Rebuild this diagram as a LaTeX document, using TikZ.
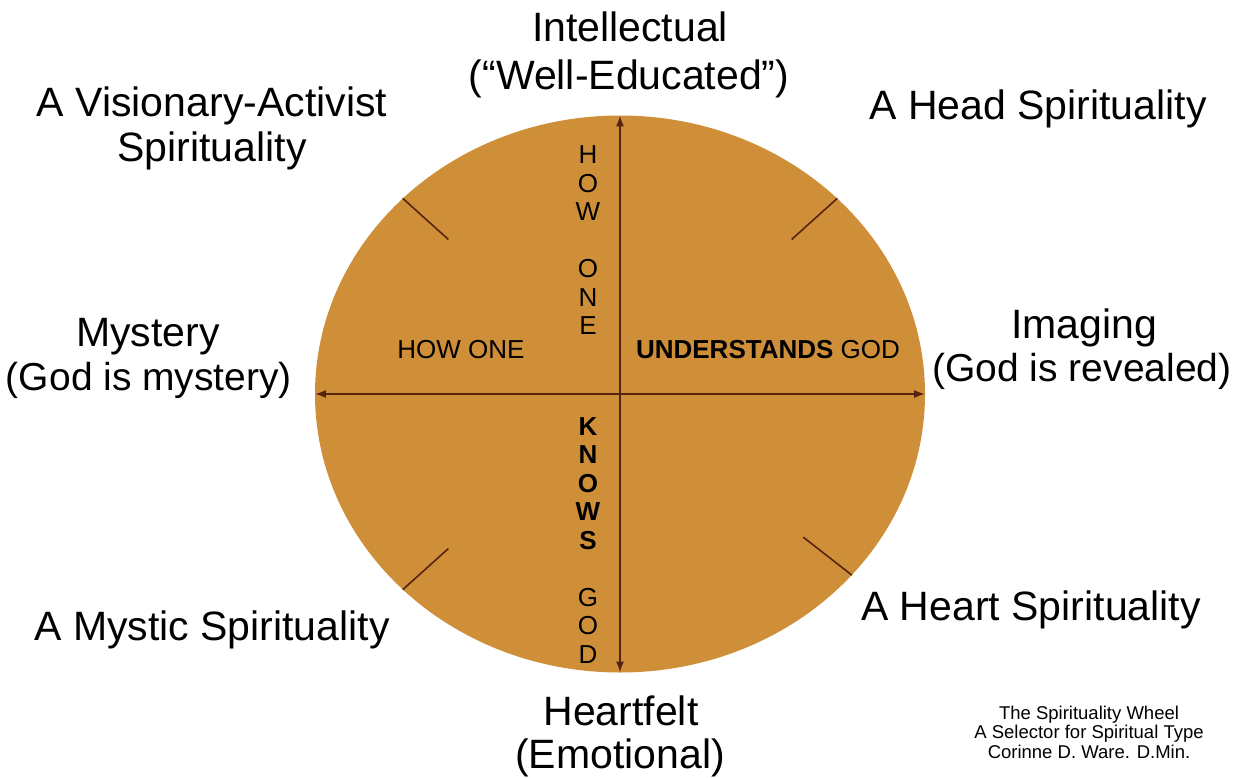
\documentclass[tikz,border=0pt]{standalone}
\usepackage{fontspec}
\setmainfont{Liberation Sans}
\usetikzlibrary{shapes.geometric,arrows.meta,calc}
\definecolor{wheelfill}{RGB}{207,143,57}
\definecolor{axisbrown}{RGB}{85,35,15}

\begin{document}
\begin{tikzpicture}[x=1pt,y=-1pt,
  big/.style={anchor=base,inner sep=0pt,font=\fontsize{41}{46}\selectfont},
  bigsub/.style={big,font=\fontsize{39}{46}\selectfont},
  inner/.style={inner sep=0pt,font=\fontsize{26}{28.5}\selectfont},
  stack/.style={inner,align=center},
  axis/.style={draw=axisbrown,line width=2pt,{Latex[length=11pt,width=8pt]}-{Latex[length=11pt,width=8pt]}},
  tick/.style={draw=axisbrown,line width=1.6pt}]
\useasboundingbox (0,0) rectangle (1236,778);
\node[ellipse,fill=wheelfill,minimum width=610pt,minimum height=557pt,inner sep=0pt] (wheel) at (620,394) {};
\draw[axis] (wheel.north) -- (wheel.south);
\draw[axis] (wheel.west) -- (wheel.east);
\foreach \a in {138,42,222,322}
  \draw[tick] (wheel.\a) -- ($(wheel.center)!.79!(wheel.\a)$);
\node[stack] (howone) at (588,240.5) {H\\O\\W\\[28.5pt]O\\N\\E};
\node[stack] (knowsgod) at (588,540.5) {\textbf{K}\\\textbf{N}\\\textbf{O}\\\textbf{W}\\\textbf{S}\\[28.5pt]G\\O\\D};
\node[inner] (howoneh) at (461,350) {HOW ONE};
\node[inner] (understands) at (768,350) {\textbf{UNDERSTANDS} GOD};
\node[big] (intel) at (630,42) {Intellectual};
\node[big] (inteltwo) at (629,90) {(“Well-Educated”)};
\node[big] (vision) at (212,117) {A Visionary-Activist};
\node[big] (visiontwo) at (212,162) {Spirituality};
\node[big] (head) at (1038,120) {A Head Spirituality};
\node[big] (mystery) at (148,346) {Mystery};
\node[bigsub] (mysterytwo) at (149,390) {(God is mystery)};
\node[big] (imaging) at (1084,338) {Imaging};
\node[bigsub] (imagingtwo) at (1082,381) {(God is revealed)};
\node[big] (mystic) at (212,640) {A Mystic Spirituality};
\node[big] (heart) at (1031,620) {A Heart Spirituality};
\node[big] (heartfelt) at (621,725) {Heartfelt};
\node[big] (hearttwo) at (620,768) {(Emotional)};
\node[align=center,inner sep=0pt,font=\fontsize{18.5}{19.5}\selectfont] (credit) at (1089,732) {The Spirituality Wheel\\A Selector for Spiritual Type\\Corinne D. Ware. D.Min.};
\end{tikzpicture}
\end{document}
